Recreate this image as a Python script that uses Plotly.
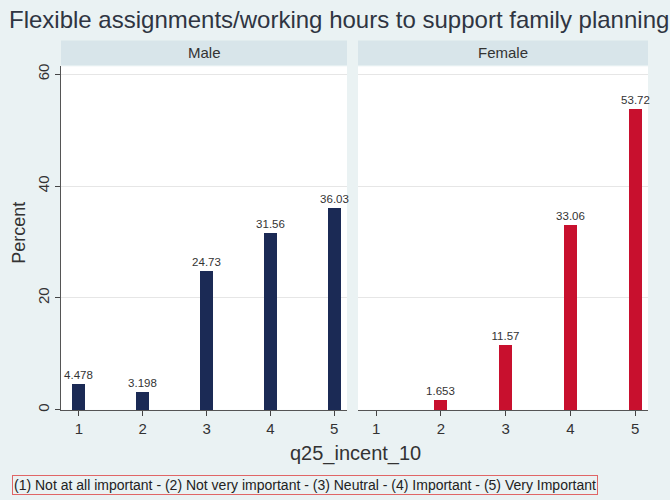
import plotly.graph_objects as go

categories = [1, 2, 3, 4, 5]
male_values = [4.478, 3.198, 24.73, 31.56, 36.03]
female_values = [0, 1.653, 11.57, 33.06, 53.72]
panel_names = ["Male", "Female"]
y_ticks = [0, 20, 40, 60]
title_text = "Flexible assignments/working hours to support family planning"
x_title = "q25_incent_10"
y_title = "Percent"
note_text = "(1) Not at all important - (2) Not very important - (3) Neutral - (4) Important - (5) Very Important"

W, H = 670, 500
BG = "#EAF2F3"
STRIP = "#D8E5EA"
NAVY = "#1B2A55"
RED = "#C8102E"
TXT = "#333333"
FONT = "Liberation Sans, Arial, sans-serif"

def px_x(v):
    return v / W

def px_y(v):
    return 1 - v / H

def lab(vals):
    return [("%.4g" % v) if v else "" for v in vals]

fig = go.Figure()
fig.add_trace(go.Bar(x=categories, y=male_values, text=lab(male_values), textposition="outside",
                     constraintext="none",
                     marker=dict(color=NAVY, line=dict(width=0)), width=0.2, xaxis="x", yaxis="y",
                     textfont=dict(size=11.5, color=TXT, family=FONT), cliponaxis=False, showlegend=False))
fig.add_trace(go.Bar(x=categories, y=female_values, text=lab(female_values), textposition="outside",
                     constraintext="none",
                     marker=dict(color=RED, line=dict(width=0)), width=0.2, xaxis="x2", yaxis="y2",
                     textfont=dict(size=11.5, color=TXT, family=FONT), cliponaxis=False, showlegend=False))

ydom = [px_y(411), px_y(64)]
xd1 = [px_x(61), px_x(347)]
xd2 = [px_x(358), px_x(648)]
xr = [0.72, 5.2]
yr = [0, 61.4]

common_x = dict(range=xr, tickvals=categories, ticks="outside", ticklen=5, tickcolor="#444",
                showline=True, linecolor="#555", linewidth=1, showgrid=False, zeroline=False,
                tickfont=dict(size=15, color=TXT, family=FONT), fixedrange=True)
fig.update_layout(
    width=W, height=H, paper_bgcolor=BG, plot_bgcolor="white",
    margin=dict(l=0, r=0, t=0, b=0), bargap=0,
    font=dict(family=FONT, color=TXT),
    xaxis=dict(domain=xd1, anchor="y", **common_x),
    xaxis2=dict(domain=xd2, anchor="y2", **common_x),
    yaxis=dict(domain=ydom, range=yr, tickvals=y_ticks, ticks="outside", ticklen=5, tickcolor="#444",
               tickangle=-90, showline=True, linecolor="#555", linewidth=1, showgrid=True,
               gridcolor="#E6E6E6", zeroline=False, anchor="x",
               tickfont=dict(size=15, color=TXT, family=FONT)),
    yaxis2=dict(domain=ydom, range=yr, tickvals=y_ticks, showticklabels=False, ticks="",
                showline=False, showgrid=True, gridcolor="#E6E6E6", zeroline=False, anchor="x2"),
)

shapes = []
annotations = []
for dom, name in zip([xd1, xd2], panel_names):
    shapes.append(dict(type="rect", xref="paper", yref="paper", x0=dom[0], x1=dom[1],
                       y0=px_y(63), y1=px_y(38), fillcolor=STRIP, line=dict(width=0), layer="below"))
    annotations.append(dict(text=name, xref="paper", yref="paper", x=(dom[0] + dom[1]) / 2,
                            y=px_y(50.5), xanchor="center", yanchor="middle", showarrow=False,
                            font=dict(size=15, color=TXT, family=FONT)))

annotations.append(dict(text=title_text, xref="paper", yref="paper", x=px_x(7), y=px_y(17),
                        xanchor="left", yanchor="middle", showarrow=False,
                        font=dict(size=24, color="#2F3542", family=FONT)))
annotations.append(dict(text=y_title, xref="paper", yref="paper", x=px_x(19), y=px_y(232),
                        xanchor="center", yanchor="middle", showarrow=False, textangle=-90,
                        font=dict(size=18, color=TXT, family=FONT)))
annotations.append(dict(text=x_title, xref="paper", yref="paper", x=px_x(355), y=px_y(455),
                        xanchor="center", yanchor="middle", showarrow=False,
                        font=dict(size=20, color=TXT, family=FONT)))
annotations.append(dict(text=note_text, xref="paper", yref="paper", x=px_x(12), y=px_y(487),
                        xanchor="left", yanchor="middle", showarrow=False,
                        bordercolor="#E06666", borderwidth=1, borderpad=1,
                        font=dict(size=14, color="#222", family=FONT)))
fig.update_layout(shapes=shapes, annotations=annotations)

fig.write_html("out.html", config={"displayModeBar": False},
               post_script="document.body.style.margin='0px';")
